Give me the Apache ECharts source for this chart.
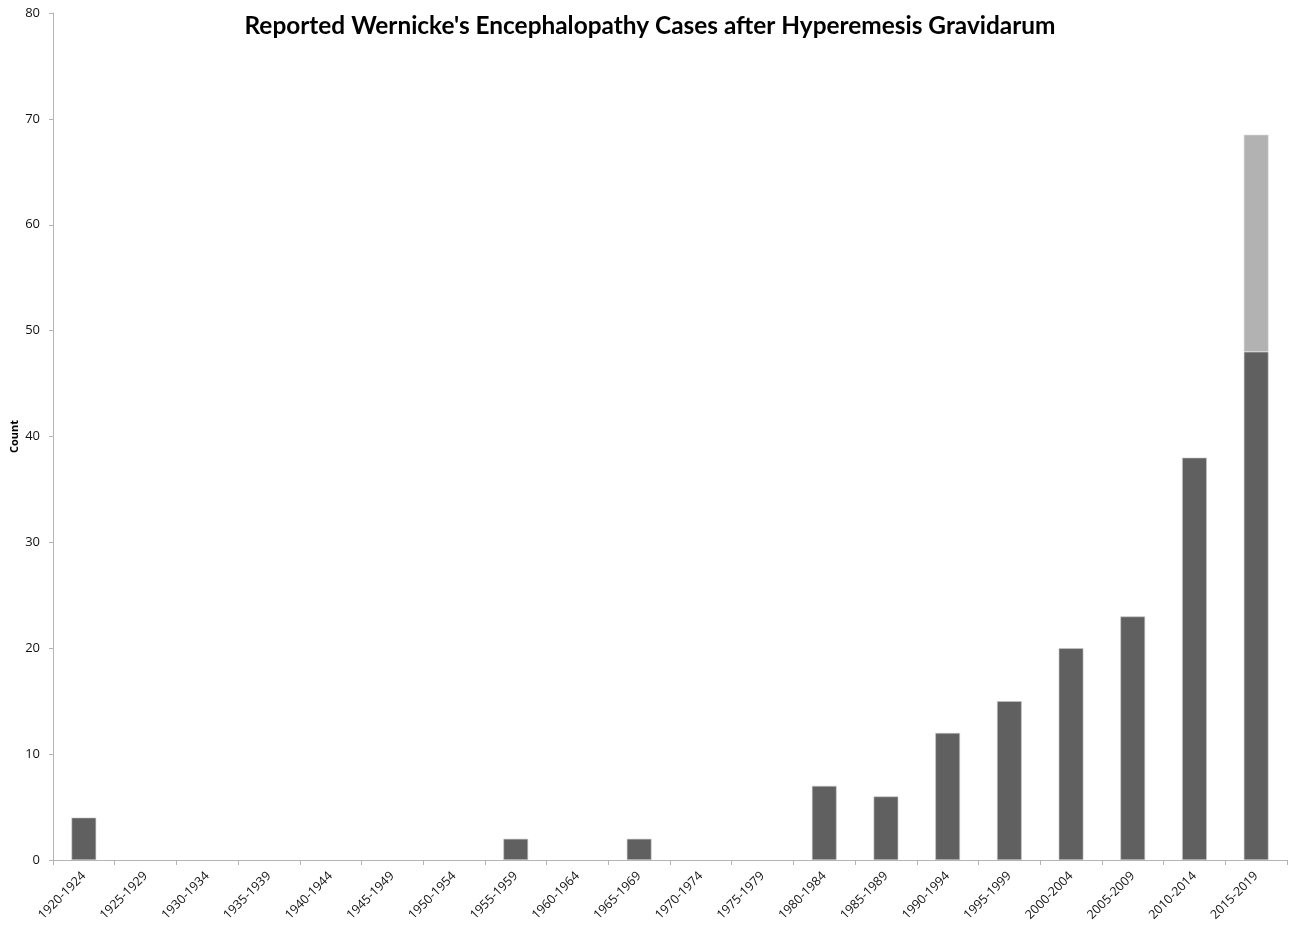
<!DOCTYPE html>
<html>
<head>
<meta charset="utf-8">
<script src="https://cdn.jsdelivr.net/npm/echarts@6/dist/echarts.min.js"></script>
<style>
  html, body { margin: 0; padding: 0; background: #ffffff; }
  #chart { width: 1290px; height: 928px; }
</style>
</head>
<body>
<div id="chart"></div>
<script>
// Five-year periods of publication
const periods = [
  '1920-1924', '1925-1929', '1930-1934', '1935-1939', '1940-1944',
  '1945-1949', '1950-1954', '1955-1959', '1960-1964', '1965-1969',
  '1970-1974', '1975-1979', '1980-1984', '1985-1989', '1990-1994',
  '1995-1999', '2000-2004', '2005-2009', '2010-2014', '2015-2019'
];
// Reported cases per period
const reported = [4, 0, 0, 0, 0, 0, 0, 2, 0, 2, 0, 0, 7, 6, 12, 15, 20, 23, 38, 48];
// Additional (projected) cases stacked on the last period
const projected = ['-', '-', '-', '-', '-', '-', '-', '-', '-', '-', '-', '-', '-', '-', '-', '-', '-', '-', '-', 20.5];

const yMin = 0, yMax = 80, yStep = 10;
const axisGrey = '#b4b4b4';
const font = '"Open Sans", "Liberation Sans", sans-serif';

// Zero counts are drawn without an outline so no sliver shows on the axis
const reportedData = reported.map(v => v === 0
  ? { value: v, itemStyle: { borderWidth: 0 } }
  : v);

const chart = echarts.init(document.getElementById('chart'), null, { renderer: 'canvas' });
chart.setOption({
  animation: false,
  backgroundColor: '#ffffff',
  title: {
    text: "Reported Wernicke's Encephalopathy Cases after Hyperemesis Gravidarum",
    left: 645,
    textAlign: 'center',
    top: 9,
    textStyle: { fontFamily: 'Lato, "Open Sans", sans-serif', fontSize: 24.4, fontWeight: 'bold', color: '#000000' }
  },
  grid: { left: 53, right: 3, top: 13, bottom: 68, containLabel: false, outerBoundsMode: 'none' },
  xAxis: {
    type: 'category',
    data: periods,
    boundaryGap: true,
    axisLine: { lineStyle: { color: axisGrey, width: 1 } },
    axisTick: { show: true, alignWithLabel: false, length: 5, lineStyle: { color: axisGrey } },
    axisLabel: {
      interval: 0, rotate: 45, margin: 14,
      fontFamily: font, fontSize: 12.5, color: '#111111'
    },
    splitLine: { show: false }
  },
  yAxis: {
    type: 'value',
    min: yMin, max: yMax, interval: yStep,
    name: 'Count',
    nameLocation: 'middle',
    nameGap: 33,
    nameRotate: 90,
    nameMoveOverlap: false,
    nameTextStyle: { fontFamily: font, fontSize: 11, fontWeight: 'bold', color: '#000000' },
    axisLine: { show: true, lineStyle: { color: axisGrey, width: 1 } },
    axisTick: { show: true, length: 4, lineStyle: { color: axisGrey } },
    axisLabel: { fontFamily: font, fontSize: 13, color: '#111111', margin: 13 },
    splitLine: { show: false }
  },
  series: [
    {
      name: 'Reported',
      type: 'bar',
      stack: 'cases',
      data: reportedData,
      barWidth: '40%',
      itemStyle: { color: '#606060', borderColor: '#c8c8c8', borderWidth: 0.6 }
    },
    {
      name: 'Projected',
      type: 'bar',
      stack: 'cases',
      data: projected,
      barWidth: '40%',
      itemStyle: { color: '#b2b2b2', borderColor: '#d6d6d6', borderWidth: 0.6 }
    }
  ]
});
</script>
</body>
</html>
